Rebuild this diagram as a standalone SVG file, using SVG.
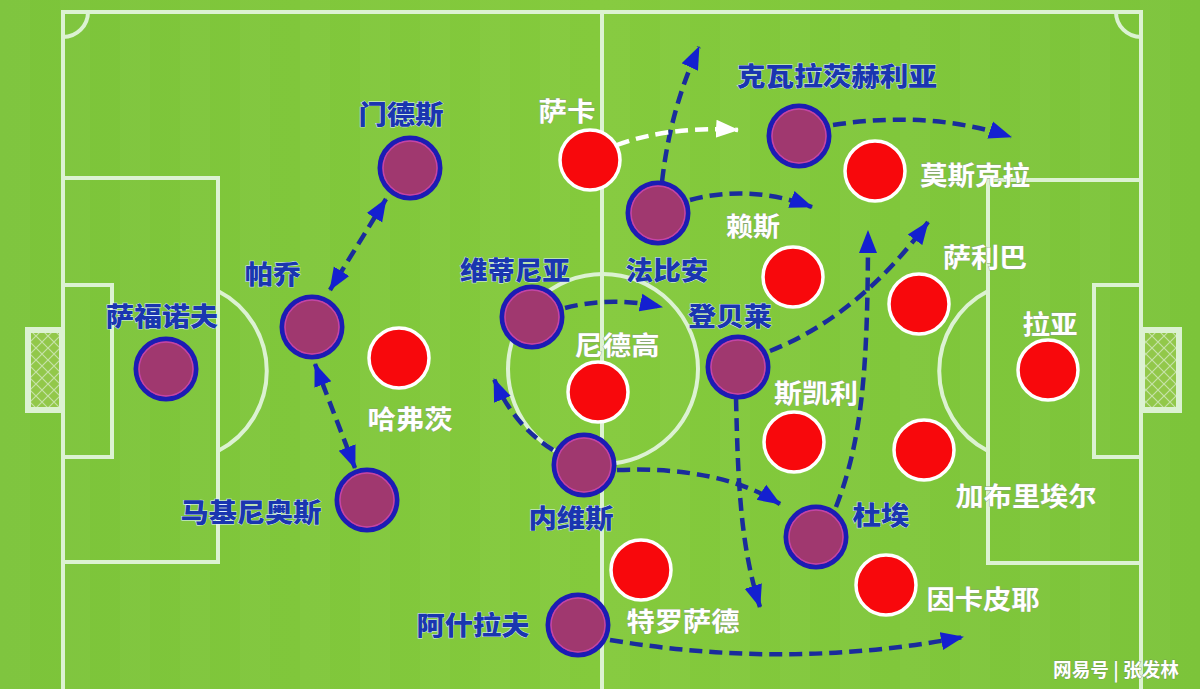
<svg xmlns="http://www.w3.org/2000/svg" width="1200" height="689" viewBox="0 0 1200 689">
<style>
.ln{fill:none;stroke:#dcf2d2;stroke-width:4}
.pp{fill:#a0386f;stroke:#1c1cb4;stroke-width:5}
.pi{fill:none;stroke:#c444a6;stroke-width:1.5}
.rd{fill:#f8080c;stroke:#ffffff;stroke-width:3.5}
.bl{font-family:"Noto Sans CJK SC","Noto Sans",sans-serif;font-weight:900;font-size:26px;fill:#1a36b0;stroke:#dff3ff;stroke-width:0.8;paint-order:stroke;text-anchor:middle;dominant-baseline:central}
.wt{font-family:"Noto Sans CJK SC","Noto Sans",sans-serif;font-weight:700;font-size:26px;fill:#ffffff;stroke:#8aa67a;stroke-width:0.8;paint-order:stroke;text-anchor:middle;dominant-baseline:central}
.ar{fill:none;stroke:#1a2c9c;stroke-width:4.5;stroke-dasharray:13 7}
.aw{fill:none;stroke:#ffffff;stroke-width:4.5;stroke-dasharray:13 7}
</style>
<defs>
<linearGradient id="bg" x1="0" y1="0" x2="1" y2="0">
<stop offset="0" stop-color="#7cc43a"/>
<stop offset="0.5" stop-color="#84ca3c"/>
<stop offset="1" stop-color="#7cc43a"/>
</linearGradient>
<pattern id="stripes" width="60" height="10" patternUnits="userSpaceOnUse">
<rect width="30" height="10" fill="#ffffff" opacity="0.025"/>
</pattern>
<pattern id="net" width="12" height="12" patternUnits="userSpaceOnUse">
<rect width="12" height="12" fill="#92c84a"/>
<path d="M0,0 L12,12 M12,0 L0,12" stroke="#c6e2a8" stroke-width="1.2"/>
</pattern>
<marker id="hb" markerUnits="userSpaceOnUse" viewBox="0 0 24 20" markerWidth="24" markerHeight="20" refX="22" refY="10" orient="auto-start-reverse">
<path d="M0,1 L23,10 L0,19 Z" fill="#1420d0"/>
</marker>
<marker id="hw" markerUnits="userSpaceOnUse" viewBox="0 0 24 20" markerWidth="24" markerHeight="20" refX="22" refY="10" orient="auto">
<path d="M0,1 L23,10 L0,19 Z" fill="#ffffff"/>
</marker>
</defs>

<g id="pitch">
<rect width="1200" height="689" fill="url(#bg)"/>
<rect width="1200" height="689" fill="url(#stripes)"/>
<path class="ln" d="M63,689 L63,12 L1141,12 L1141,689"/>
<line class="ln" x1="602" y1="12" x2="602" y2="689"/>
<circle class="ln" cx="603" cy="369" r="95"/>
<rect class="ln" x="63" y="178" width="155" height="384"/>
<rect class="ln" x="63" y="285" width="49" height="172"/>
<path class="ln" d="M218,291 A90,90 0 0 1 218,451"/>
<rect class="ln" x="988" y="180" width="153" height="383"/>
<rect class="ln" x="1094" y="285" width="47" height="172"/>
<path class="ln" d="M988,291 A90,90 0 0 0 988,451"/>
<path class="ln" d="M63,37 A25,25 0 0 0 88,12"/>
<path class="ln" d="M1116,12 A25,25 0 0 0 1141,37"/>
<rect x="28" y="330" width="34" height="80" fill="url(#net)" stroke="#dcf2d2" stroke-width="6"/>
<rect x="1142" y="330" width="37" height="80" fill="url(#net)" stroke="#dcf2d2" stroke-width="6"/>
</g>

<g id="connectors">
<path class="ar" d="M386,199 L330,290" marker-start="url(#hb)" marker-end="url(#hb)"/>
<path class="ar" d="M315,364 L355,468" marker-start="url(#hb)" marker-end="url(#hb)"/>
<path class="ar" d="M565,308 Q610,296 662,307" marker-end="url(#hb)"/>
<path class="ar" d="M553,450 Q513,425 494,379" marker-end="url(#hb)"/>
<path class="ar" d="M617,470 Q720,466 780,504" marker-end="url(#hb)"/>
<path class="ar" d="M736,398 C738,480 740,545 760,607" marker-end="url(#hb)"/>
<path class="ar" d="M770,351 Q860,315 928,222" marker-end="url(#hb)"/>
<path class="ar" d="M836,507 C862,440 868,370 868,231" marker-end="url(#hb)"/>
<path class="ar" d="M833,125 Q930,110 1011,137" marker-end="url(#hb)"/>
<path class="ar" d="M690,200 Q750,184 812,207" marker-end="url(#hb)"/>
<path class="ar" d="M662,182 Q670,110 699,47" marker-end="url(#hb)"/>
<path class="aw" d="M617,145 Q668,126 738,130" marker-end="url(#hw)"/>
<path class="ar" d="M610,640 Q790,670 963,637" marker-end="url(#hb)"/>
</g>

<g id="p-safonov"><circle class="pp" cx="166" cy="369" r="30"/><circle class="pi" cx="166" cy="369" r="27"/><text class="bl" x="162" y="314" textLength="112" lengthAdjust="spacingAndGlyphs">萨福诺夫</text></g>
<g id="p-mendes"><circle class="pp" cx="410" cy="168" r="30"/><circle class="pi" cx="410" cy="168" r="27"/><text class="bl" x="401" y="112" textLength="85" lengthAdjust="spacingAndGlyphs">门德斯</text></g>
<g id="p-pacho"><circle class="pp" cx="312" cy="327" r="30"/><circle class="pi" cx="312" cy="327" r="27"/><text class="bl" x="273" y="272" textLength="56" lengthAdjust="spacingAndGlyphs">帕乔</text></g>
<g id="p-marquinhos"><circle class="pp" cx="367" cy="500" r="30"/><circle class="pi" cx="367" cy="500" r="27"/><text class="bl" x="251" y="510" textLength="141" lengthAdjust="spacingAndGlyphs">马基尼奥斯</text></g>
<g id="p-vitinha"><circle class="pp" cx="532" cy="317" r="30"/><circle class="pi" cx="532" cy="317" r="27"/><text class="bl" x="515" y="268" textLength="110" lengthAdjust="spacingAndGlyphs">维蒂尼亚</text></g>
<g id="p-fabian"><circle class="pp" cx="658" cy="213" r="30"/><circle class="pi" cx="658" cy="213" r="27"/><text class="bl" x="667" y="268" textLength="83" lengthAdjust="spacingAndGlyphs">法比安</text></g>
<g id="p-kvara"><circle class="pp" cx="799" cy="136" r="30"/><circle class="pi" cx="799" cy="136" r="27"/><text class="bl" x="837" y="74" textLength="200" lengthAdjust="spacingAndGlyphs">克瓦拉茨赫利亚</text></g>
<g id="p-dembele"><circle class="pp" cx="738" cy="367" r="30"/><circle class="pi" cx="738" cy="367" r="27"/><text class="bl" x="730" y="314" textLength="84" lengthAdjust="spacingAndGlyphs">登贝莱</text></g>
<g id="p-neves"><circle class="pp" cx="584" cy="465" r="30"/><circle class="pi" cx="584" cy="465" r="27"/><text class="bl" x="571" y="516" textLength="85" lengthAdjust="spacingAndGlyphs">内维斯</text></g>
<g id="p-doue"><circle class="pp" cx="816" cy="537" r="30"/><circle class="pi" cx="816" cy="537" r="27"/><text class="bl" x="881" y="513" textLength="57" lengthAdjust="spacingAndGlyphs">杜埃</text></g>
<g id="p-hakimi"><circle class="pp" cx="578" cy="625" r="30"/><circle class="pi" cx="578" cy="625" r="27"/><text class="bl" x="473" y="623" textLength="113" lengthAdjust="spacingAndGlyphs">阿什拉夫</text></g>

<g id="a-saka"><circle class="rd" cx="590" cy="160" r="30"/><text class="wt" x="567" y="109" textLength="57" lengthAdjust="spacingAndGlyphs">萨卡</text></g>
<g id="a-mosquera"><circle class="rd" cx="875" cy="171" r="30"/><text class="wt" x="975" y="173" textLength="110" lengthAdjust="spacingAndGlyphs">莫斯克拉</text></g>
<g id="a-rice"><circle class="rd" cx="793" cy="277" r="30"/><text class="wt" x="753" y="224" textLength="54" lengthAdjust="spacingAndGlyphs">赖斯</text></g>
<g id="a-saliba"><circle class="rd" cx="919" cy="304" r="30"/><text class="wt" x="985" y="255" textLength="84" lengthAdjust="spacingAndGlyphs">萨利巴</text></g>
<g id="a-raya"><circle class="rd" cx="1048" cy="370" r="30"/><text class="wt" x="1050" y="322" textLength="55" lengthAdjust="spacingAndGlyphs">拉亚</text></g>
<g id="a-havertz"><circle class="rd" cx="399" cy="358" r="30"/><text class="wt" x="410" y="417" textLength="85" lengthAdjust="spacingAndGlyphs">哈弗茨</text></g>
<g id="a-norgaard"><circle class="rd" cx="598" cy="392" r="30"/><text class="wt" x="617" y="343" textLength="85" lengthAdjust="spacingAndGlyphs">尼德高</text></g>
<g id="a-skelly"><circle class="rd" cx="794" cy="442" r="30"/><text class="wt" x="816" y="391" textLength="84" lengthAdjust="spacingAndGlyphs">斯凯利</text></g>
<g id="a-gabriel"><circle class="rd" cx="924" cy="450" r="30"/><text class="wt" x="1026" y="494" textLength="141" lengthAdjust="spacingAndGlyphs">加布里埃尔</text></g>
<g id="a-trossard"><circle class="rd" cx="641" cy="570" r="30"/><text class="wt" x="683" y="619" textLength="113" lengthAdjust="spacingAndGlyphs">特罗萨德</text></g>
<g id="a-hincapie"><circle class="rd" cx="886" cy="585" r="30"/><text class="wt" x="983" y="597" textLength="113" lengthAdjust="spacingAndGlyphs">因卡皮耶</text></g>

<text x="1116" y="668" font-family="Noto Sans CJK SC, sans-serif" font-weight="700" font-size="19" fill="#ffffff" stroke="#6a8a5a" stroke-width="0.6" paint-order="stroke" text-anchor="middle" dominant-baseline="central" textLength="126" lengthAdjust="spacingAndGlyphs">网易号 | 张发林</text>
</svg>
